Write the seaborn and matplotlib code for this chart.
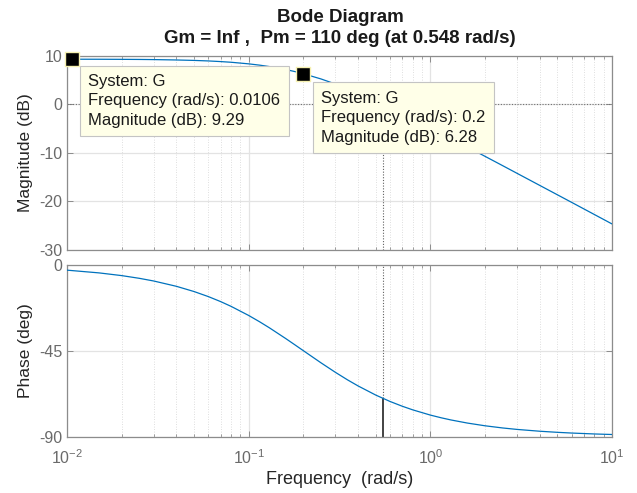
import numpy as np
import pandas as pd
import matplotlib
matplotlib.use("Agg")
import matplotlib.pyplot as plt
import matplotlib.ticker as mticker
import seaborn as sns

# ---- data ----
freq = [0.01, 0.015, 0.02, 0.025, 0.03, 0.04, 0.05, 0.06, 0.07, 0.08, 0.1,
        0.115, 0.13, 0.16, 0.18, 0.2, 0.25, 0.3, 0.35, 0.4, 0.5, 0.6, 0.7,
        0.8, 1.0, 1.15, 1.3, 1.6, 2.0, 2.5, 3.0, 4.0, 5.0, 6.0, 8.0, 10.0]
mag_db = [9.28, 9.27, 9.25, 9.23, 9.20, 9.12, 9.03, 8.92, 8.79, 8.65, 8.32,
          8.05, 7.76, 7.15, 6.72, 6.28, 5.21, 4.17, 3.21, 2.30, 0.97, -0.71,
          -2.25, -3.01, -4.86, -6.16, -7.17, -8.84, -10.75, -12.67, -14.25,
          -16.74, -18.67, -20.25, -22.75, -24.69]
phase_deg = [-2.86, -4.29, -5.71, -7.13, -8.53, -11.31, -14.04, -16.70,
             -19.29, -21.80, -26.57, -29.90, -33.02, -38.66, -41.99, -45.0,
             -51.34, -56.31, -60.26, -63.43, -68.20, -71.57, -74.05, -75.96,
             -78.69, -80.13, -81.25, -82.87, -84.29, -85.43, -86.19, -87.14,
             -87.71, -88.09, -88.57, -88.85]
tip_freq = [0.0106, 0.2]
tip_mag = [9.29, 6.28]
tip_labels = ["System: G\nFrequency (rad/s): 0.0106\nMagnitude (dB): 9.29",
              "System: G\nFrequency (rad/s): 0.2\nMagnitude (dB): 6.28"]
wc = 0.548
phase_at_wc = -70.0
mag_ticks = [10, 0, -10, -20, -30]
phase_ticks = [0, -45, -90]
title1 = "Bode Diagram"
title2 = "Gm = Inf ,  Pm = 110 deg (at 0.548 rad/s)"

df = pd.DataFrame({"freq": freq, "mag": mag_db, "phase": phase_deg})

sns.set_theme(style="white")
plt.rcParams["font.family"] = ["Liberation Sans", "DejaVu Sans"]
plt.rcParams["axes.unicode_minus"] = False

LINE = "#0072BD"
TICKC = "#6a6a6a"
SPINE = "#8c8c8c"

fig = plt.figure(figsize=(6.37, 4.93), dpi=100)
ax1 = fig.add_axes([0.1052, 0.4935, 0.8556, 0.3935])
ax2 = fig.add_axes([0.1052, 0.1142, 0.8556, 0.3489])

for ax in (ax1, ax2):
    ax.set_xscale("log")
    ax.set_xlim(0.01, 10)
    ax.xaxis.set_major_locator(mticker.LogLocator(base=10, numticks=10))
    ax.xaxis.set_minor_locator(mticker.LogLocator(base=10, subs=np.arange(2, 10), numticks=20))
    ax.grid(True, which="major", axis="both", color="#e3e3e3", lw=0.9, ls="-")
    ax.grid(True, which="minor", axis="x", color="#d4d4d4", lw=0.6, ls=(0, (1, 2)))
    ax.set_axisbelow(True)
    for s in ax.spines.values():
        s.set_color(SPINE)
        s.set_linewidth(0.9)
    ax.tick_params(which="both", direction="in", top=True, right=True,
                   bottom=True, left=True, colors=SPINE, labelcolor=TICKC,
                   labelsize=11.5)
    ax.tick_params(which="major", length=4, width=0.7)
    ax.tick_params(which="minor", length=2.5, width=0.6)

# magnitude
ax1.set_ylim(-30, 10)
ax1.set_yticks(mag_ticks)
ax1.axhline(0, color="#707070", lw=0.8, ls=(0, (1, 1.5)), zorder=1.5)
ax1.vlines(wc, -30, 0, color="#606060", lw=0.8, ls=(0, (1, 1.5)), zorder=1.5)
sns.lineplot(data=df, x="freq", y="mag", ax=ax1, color=LINE, lw=0.9,
             estimator=None, sort=False, zorder=3)
sns.scatterplot(x=tip_freq, y=tip_mag, ax=ax1, marker="s", s=115,
                color="black", edgecolor="#f5f0b0", linewidth=1.0, zorder=6,
                clip_on=False)
offsets = [(12.0, -10.6), (12.7, -12.1)]
for fx, my, lab, off in zip(tip_freq, tip_mag, tip_labels, offsets):
    ax1.annotate(lab, xy=(fx, my), xytext=off, textcoords="offset points",
                 ha="left", va="top", fontsize=12, color="#1a1a1a",
                 linespacing=1.38, zorder=7,
                 bbox=dict(boxstyle="square,pad=0.5", fc="#ffffe8",
                           ec="#c4c4c4", lw=0.8))
ax1.tick_params(axis="x", which="both", labelbottom=False)
ax1.set_xlabel("")
ax1.set_ylabel("Magnitude (dB)", fontsize=12.5, color="#262626", labelpad=4)

# phase
ax2.set_ylim(-90, 0)
ax2.set_yticks(phase_ticks)
ax2.vlines(wc, phase_at_wc, 0, color="#606060", lw=0.8, ls=(0, (1, 1.5)), zorder=1.5)
ax2.vlines(wc, -90, phase_at_wc, color="#222222", lw=1.2, zorder=2.5)
sns.lineplot(data=df, x="freq", y="phase", ax=ax2, color=LINE, lw=0.9,
             estimator=None, sort=False, zorder=3)
ax2.xaxis.set_major_formatter(mticker.LogFormatterMathtext())
ax2.tick_params(axis="x", which="major", pad=8)
ax2.set_xlabel("Frequency  (rad/s)", fontsize=13, color="#262626", labelpad=3)
ax2.set_ylabel("Phase (deg)", fontsize=12.5, color="#262626", labelpad=4)

fig.text(0.534, 0.964, title1, ha="center", va="center", fontsize=13.5,
         fontweight="bold", color="#1a1a1a")
fig.text(0.534, 0.921, title2, ha="center", va="center", fontsize=13.5,
         fontweight="bold", color="#1a1a1a")

fig.savefig("out.png", dpi=100)
